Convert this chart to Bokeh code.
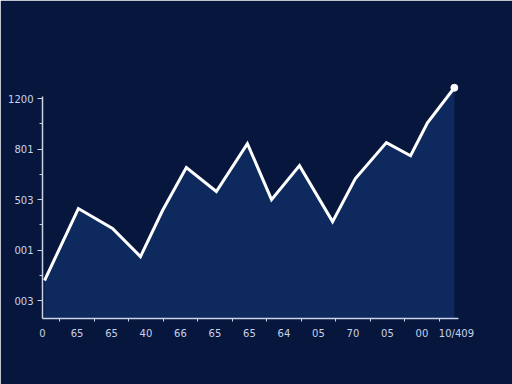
from bokeh.plotting import figure
from bokeh.models import FixedTicker, Range1d
from bokeh.embed import file_html
from bokeh.resources import INLINE

# data
x_vals = [0.06, 1.04, 2.03, 2.84, 3.48, 4.17, 5.04, 5.94, 6.64, 7.45, 8.41, 9.07, 9.97, 10.67, 11.16, 11.94]
y_vals = [119, 547, 428, 261, 535, 790, 648, 933, 600, 802, 469, 725, 939, 861, 1057, 1265]

x_ticks = [0, 1, 2, 3, 4, 5, 6, 7, 8, 9, 10, 11, 12]
x_labels = ["0", "65", "65", "40", "66", "65", "65", "64", "05", "70", "05", "00", "10/409"]
y_ticks = [0, 300, 600, 900, 1200]
y_labels = ["003", "001", "503", "801", "1200"]

BG = "#06163d"
Y0 = -107

p = figure(width=512, height=384, output_backend="svg", toolbar_location=None,
           x_range=Range1d(0, 12.06), y_range=Range1d(Y0, 1320),
           background_fill_color=BG, border_fill_color=BG,
           min_border_left=42, min_border_right=54, min_border_top=78, min_border_bottom=66)
p.outline_line_color = BG
p.outline_line_width = 2
p.grid.visible = False

p.varea(x=x_vals, y1=[Y0] * len(x_vals), y2=y_vals, fill_color="#0e2a60", fill_alpha=0.95)
p.line(x_vals, y_vals, line_color="white", line_width=3, line_join="miter")
p.scatter([x_vals[-1]], [y_vals[-1]], size=7, color="white")

axis_col = "#c9d2e6"
p.xaxis.ticker = FixedTicker(ticks=x_ticks, minor_ticks=[k + 0.5 for k in range(12)])
p.xaxis.major_label_overrides = {t: l for t, l in zip(x_ticks, x_labels)}
p.yaxis.ticker = FixedTicker(ticks=y_ticks, minor_ticks=[150, 450, 750, 1050])
p.yaxis.major_label_overrides = {t: l for t, l in zip(y_ticks, y_labels)}
p.yaxis.bounds = (Y0, 1215)

for ax in (p.xaxis, p.yaxis):
    ax.axis_line_color = axis_col
    ax.axis_line_width = 1.5
    ax.major_tick_line_color = axis_col
    ax.minor_tick_line_color = axis_col
    ax.major_label_text_color = axis_col
    ax.major_label_text_font = "DejaVu Sans"
    ax.major_label_text_font_size = "10px"

p.xaxis.major_tick_out = 0
p.xaxis.major_tick_in = 0
p.xaxis.minor_tick_out = 3
p.xaxis.minor_tick_in = 0
p.xaxis.major_label_standoff = 6
p.yaxis.major_tick_out = 5
p.yaxis.major_tick_in = 0
p.yaxis.minor_tick_out = 3
p.yaxis.minor_tick_in = 0
p.yaxis.major_label_standoff = 4

open("out.html", "w").write(file_html(p, INLINE))
